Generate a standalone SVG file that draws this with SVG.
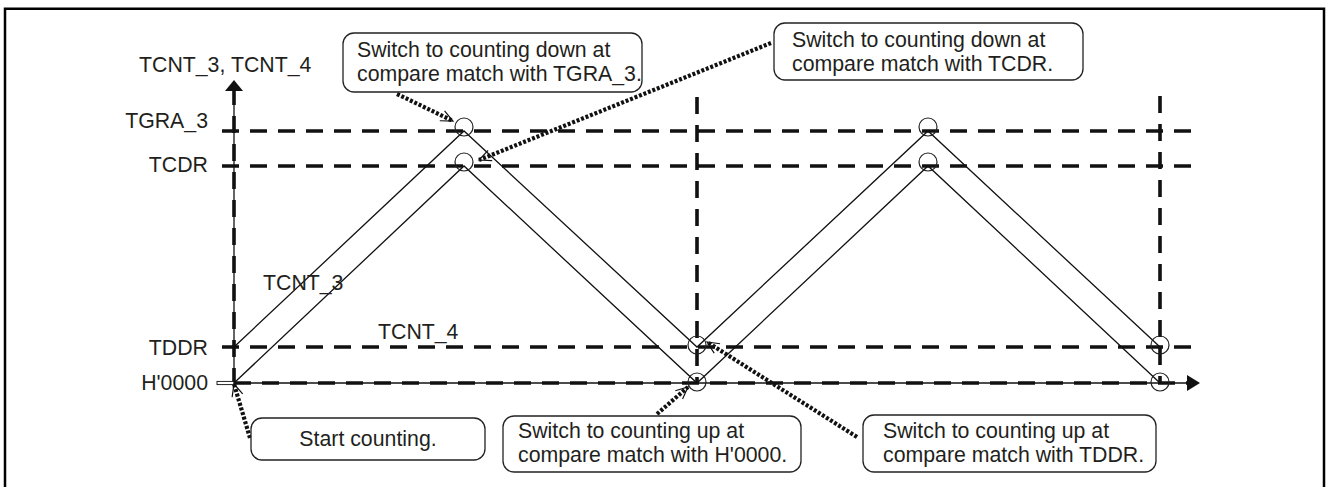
<svg xmlns="http://www.w3.org/2000/svg" width="1327" height="487" viewBox="0 0 1327 487">
<style>
text{font-family:"Liberation Sans",Arial,sans-serif;font-size:21.3px;fill:#231f20}
.dash{stroke:#111;stroke-width:3.6;stroke-dasharray:17 11;fill:none}
.thin{stroke:#111;stroke-width:1.3;fill:none}
.box{fill:#fff;stroke:#222;stroke-width:1.3}
.dot{stroke:#111;stroke-width:4.2;stroke-dasharray:3 1.8;fill:none}
.circ{fill:none;stroke:#222;stroke-width:1.2}
</style>
<defs>
<marker id="vee" markerUnits="userSpaceOnUse" markerWidth="16" markerHeight="16" viewBox="-14 -8 16 16" refX="0" refY="0" orient="auto">
<path d="M-12,-5.5 L0,0 L-12,5.5" fill="none" stroke="#111" stroke-width="1.2"/>
</marker>
</defs>
<rect width="1327" height="487" fill="#fff"/>
<path d="M5,495 V8.7 H1324 V495" fill="none" stroke="#000" stroke-width="2.5"/>

<g id="axes">
<line x1="234" y1="91" x2="234" y2="383" class="thin"/>
<line x1="234" y1="91" x2="234" y2="383" class="dash" stroke-dashoffset="3"/>
<path d="M234,80 L243,91 L225,91 Z" fill="#111"/>
<line x1="234" y1="383" x2="1188" y2="383" class="thin"/>
<line x1="234" y1="383" x2="1188" y2="383" class="dash"/>
<path d="M1200,383 L1187,375 L1187,391 Z" fill="#111"/>
<rect x="217" y="381.4" width="17" height="3.2" fill="#fff" stroke="#111" stroke-width="0.9"/>
</g>

<g id="levels">
<line x1="222" y1="131" x2="1198" y2="131" class="dash"/>
<line x1="222" y1="166" x2="1198" y2="166" class="dash"/>
<line x1="222" y1="347" x2="1198" y2="347" class="dash"/>
<line x1="697" y1="97" x2="697" y2="383" class="dash"/>
<line x1="1160" y1="96" x2="1160" y2="383" class="dash"/>
</g>

<g id="counters">
<polyline class="thin" points="234,347 464,131 697,347 928,131 1160,347"/>
<polyline class="thin" points="234,383 464,166 697,383 928,166 1160,383"/>
<circle class="circ" cx="464" cy="127" r="9"/>
<circle class="circ" cx="464" cy="162" r="9"/>
<circle class="circ" cx="928" cy="127" r="9"/>
<circle class="circ" cx="928" cy="162" r="9"/>
<circle class="circ" cx="697" cy="345" r="9"/>
<circle class="circ" cx="697" cy="382" r="9"/>
<circle class="circ" cx="1160" cy="345" r="9"/>
<circle class="circ" cx="1160" cy="382" r="9"/>
</g>

<g id="labels">
<text x="139" y="72">TCNT_3, TCNT_4</text>
<text x="208" y="128" text-anchor="end">TGRA_3</text>
<text x="208" y="172" text-anchor="end">TCDR</text>
<text x="208" y="355" text-anchor="end">TDDR</text>
<text x="208" y="390" text-anchor="end">H'0000</text>
<text x="263" y="290">TCNT_3</text>
<text x="378" y="339">TCNT_4</text>
</g>

<g id="connectors">
<line class="dot" x1="397" y1="94" x2="453" y2="121" marker-end="url(#vee)"/>
<line class="dot" x1="771" y1="43" x2="479" y2="160" marker-end="url(#vee)"/>
<line class="dot" x1="250" y1="438" x2="234" y2="384" marker-end="url(#vee)"/>
<line class="dot" x1="657" y1="414" x2="688" y2="387" marker-end="url(#vee)"/>
<line class="dot" x1="857" y1="437" x2="707" y2="342" marker-end="url(#vee)"/>
</g>

<g id="callout-tgra">
<rect class="box" x="343" y="33" width="299" height="59" rx="11"/>
<text x="357" y="57">Switch to counting down at</text>
<text x="357" y="81">compare match with TGRA_3.</text>
</g>
<g id="callout-tcdr">
<rect class="box" x="774" y="23" width="309" height="57" rx="11"/>
<text x="792" y="47">Switch to counting down at</text>
<text x="792" y="71">compare match with TCDR.</text>
</g>
<g id="callout-start">
<rect class="box" x="251" y="418" width="234" height="42" rx="11"/>
<text x="368" y="446" text-anchor="middle">Start counting.</text>
</g>
<g id="callout-h0000">
<rect class="box" x="503" y="416" width="298" height="56" rx="11"/>
<text x="518" y="438">Switch to counting up at</text>
<text x="518" y="462">compare match with H'0000.</text>
</g>
<g id="callout-tddr">
<rect class="box" x="863" y="415" width="293" height="57" rx="11"/>
<text x="883" y="438">Switch to counting up at</text>
<text x="883" y="462">compare match with TDDR.</text>
</g>
</svg>
